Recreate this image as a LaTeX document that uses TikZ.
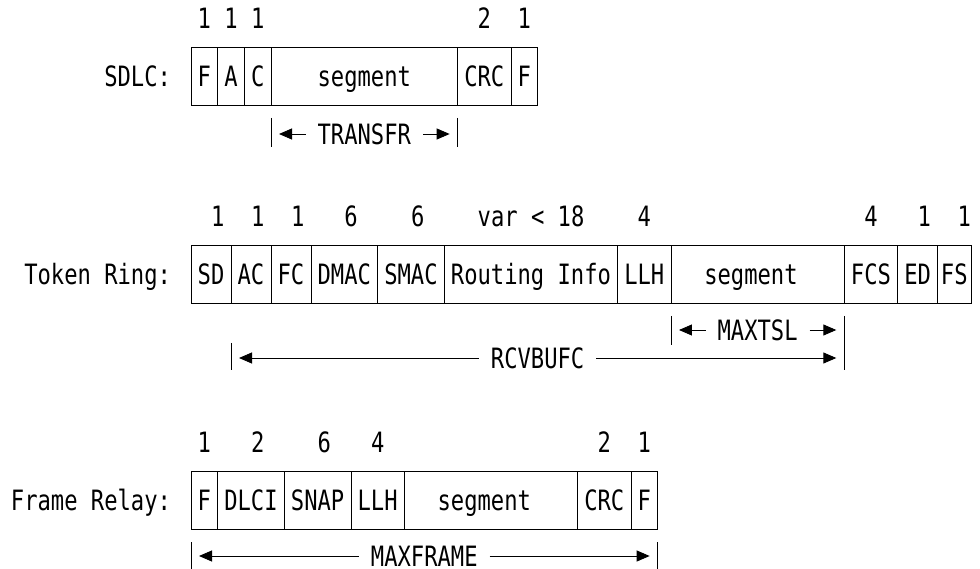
\documentclass[tikz,border=0pt]{standalone}
\usepackage{fontspec}
\usetikzlibrary{positioning, arrows.meta, calc}
\newfontfamily\framefont[FakeStretch=0.791]{DejaVu Sans Mono}
\newcommand{\cw}{13.333pt}

\begin{document}
\begin{tikzpicture}[
    x=1pt, y=-1pt,
    every node/.style={
      font=\framefont\fontsize{28}{32}\selectfont,
      inner sep=0pt, outer sep=0pt
    },
    fld/.style={
      draw, line width=0.9pt, minimum height=58pt,
      text height=20.4pt, text depth=0pt
    },
    rowlbl/.style={text height=20.4pt, text depth=0pt},
    num/.style={anchor=base},
    spanlbl/.style={text height=20.4pt, text depth=0pt},
    bar/.style={line width=0.9pt},
    dim/.style={
      line width=0.9pt, shorten <=12pt, shorten >=8pt,
      -{Triangle[length=13pt, width=11pt]}
    },
  ]
    \useasboundingbox (0,0) rectangle (980,569);

    \node[fld, minimum width=2*\cw, anchor=west] (sF1) at (191,76) {F};
    \node[fld, minimum width=2*\cw, right=0pt of sF1] (sA) {A};
    \node[fld, minimum width=2*\cw, right=0pt of sA] (sC) {C};
    \node[fld, minimum width=14*\cw, right=0pt of sC] (sSeg) {segment};
    \node[fld, minimum width=4*\cw, right=0pt of sSeg] (sCRC) {CRC};
    \node[fld, minimum width=2*\cw, right=0pt of sCRC] (sF2) {F};
    \node[rowlbl, left=20pt of sF1] (sdlc) {SDLC:};

    \node[num] (sn1) at (204.3,29) {1};
    \node[num] (sn2) at (231,29) {1};
    \node[num] (sn3) at (257.7,29) {1};
    \node[num] (sn4) at (484.3,29) {2};
    \node[num] (sn5) at (524.3,29) {1};

    \node[spanlbl] (transfr) at ([yshift=-29pt]sSeg.south) {TRANSFR};
    \draw[bar] ([yshift=-13pt]sSeg.south west) -- ++(0,29);
    \draw[bar] ([yshift=-13pt]sSeg.south east) -- ++(0,29);
    \draw[dim] (transfr.west) -- (transfr.west -| sSeg.west);
    \draw[dim] (transfr.east) -- (transfr.east -| sSeg.east);

    \node[fld, minimum width=3*\cw, anchor=west] (tSD) at (191,274) {SD};
    \node[fld, minimum width=3*\cw, right=0pt of tSD] (tAC) {AC};
    \node[fld, minimum width=3*\cw, right=0pt of tAC] (tFC) {FC};
    \node[fld, minimum width=5*\cw, right=0pt of tFC] (tDMAC) {DMAC};
    \node[fld, minimum width=5*\cw, right=0pt of tDMAC] (tSMAC) {SMAC};
    \node[fld, minimum width=13*\cw, right=0pt of tSMAC] (tRI) {Routing Info};
    \node[fld, minimum width=4*\cw, right=0pt of tRI] (tLLH) {LLH};
    \node[fld, minimum width=13*\cw, right=0pt of tLLH] (tSeg) {segment\hphantom{x}};
    \node[fld, minimum width=4*\cw, right=0pt of tSeg] (tFCS) {FCS};
    \node[fld, minimum width=3*\cw, right=0pt of tFCS] (tED) {ED};
    \node[fld, minimum width=2.5*\cw, right=0pt of tED] (tFS) {FS};
    \node[rowlbl, left=20pt of tSD] (tring) {Token Ring:};

    \node[num] (tn1) at (217.7,227) {1};
    \node[num] (tn2) at (257.7,227) {1};
    \node[num] (tn3) at (297.7,227) {1};
    \node[num] (tn4) at (351,227) {6};
    \node[num] (tn5) at (417.7,227) {6};
    \node[num] (tn6) at (531,227) {var < 18};
    \node[num] (tn7) at (644.3,227) {4};
    \node[num] (tn8) at (871,227) {4};
    \node[num] (tn9) at (924.3,227) {1};
    \node[num] (tn10) at (964.3,227) {1};

    \node[spanlbl] (maxtsl) at ([yshift=-27pt]tSeg.south) {MAXTSL};
    \draw[bar] ([yshift=-13pt]tSeg.south west) -- ++(0,29);
    \draw[bar] ([yshift=-13pt]tSeg.south east) -- ++(0,54);
    \draw[dim] (maxtsl.west) -- (maxtsl.west -| tSeg.west);
    \draw[dim] (maxtsl.east) -- (maxtsl.east -| tSeg.east);

    \node[spanlbl] (rcvbufc) at ($(tAC.south west)!0.5!(tSeg.south east)+(0,55)$) {RCVBUFC};
    \draw[bar] ([yshift=-40pt]tAC.south west) -- ++(0,27);
    \draw[dim] (rcvbufc.west) -- (rcvbufc.west -| tAC.west);
    \draw[dim] (rcvbufc.east) -- (rcvbufc.east -| tSeg.east);

    \node[fld, minimum width=2*\cw, anchor=west] (fF1) at (191,500) {F};
    \node[fld, minimum width=5*\cw, right=0pt of fF1] (fDLCI) {DLCI};
    \node[fld, minimum width=5*\cw, right=0pt of fDLCI] (fSNAP) {SNAP};
    \node[fld, minimum width=4*\cw, right=0pt of fSNAP] (fLLH) {LLH};
    \node[fld, minimum width=13*\cw, right=0pt of fLLH] (fSeg) {segment\hphantom{x}};
    \node[fld, minimum width=4*\cw, right=0pt of fSeg] (fCRC) {CRC};
    \node[fld, minimum width=2*\cw, right=0pt of fCRC] (fF2) {F};
    \node[rowlbl, left=20pt of fF1] (frelay) {Frame Relay:};

    \node[num] (fn1) at (204.3,452) {1};
    \node[num] (fn2) at (257.7,452) {2};
    \node[num] (fn3) at (324.3,452) {6};
    \node[num] (fn4) at (377.7,452) {4};
    \node[num] (fn5) at (604.3,452) {2};
    \node[num] (fn6) at (644.3,452) {1};

    \node[spanlbl] (maxframe) at ($(fF1.south west)!0.5!(fF2.south east)+(0,27)$) {MAXFRAME};
    \draw[bar] ([yshift=-13pt]fF1.south west) -- ++(0,28);
    \draw[bar] ([yshift=-13pt]fF2.south east) -- ++(0,28);
    \draw[dim] (maxframe.west) -- (maxframe.west -| fF1.west);
    \draw[dim] (maxframe.east) -- (maxframe.east -| fF2.east);
  \end{tikzpicture}
\end{document}
